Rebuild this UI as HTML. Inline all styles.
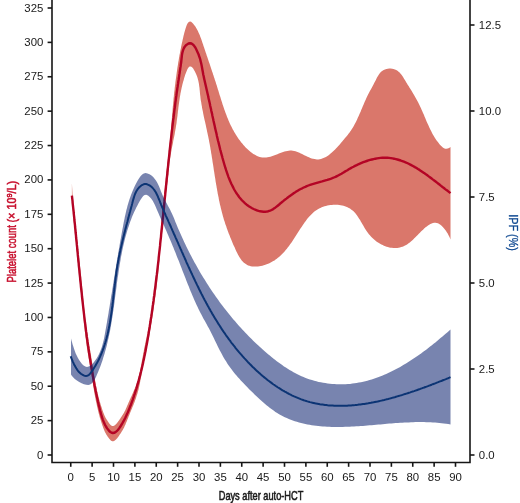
<!DOCTYPE html>
<html><head><meta charset="utf-8"><title>Platelet count and IPF</title>
<style>html,body{margin:0;padding:0;background:#fff}svg{display:block}text{font-family:"Liberation Sans",sans-serif;fill:#1a1a1a}</style></head><body>
<svg width="520" height="503" viewBox="0 0 520 503">
<rect width="520" height="503" fill="#fff"/>
<path d="M71.9 183.1L72.2 188.5L72.5 194.0L72.9 197.6L73.2 200.9L73.5 204.2L73.8 207.5L74.2 210.8L74.5 214.1L74.8 217.3L75.1 220.5L75.5 223.7L75.8 226.9L76.1 230.1L76.4 233.2L76.8 236.3L77.1 239.4L77.4 242.4L77.7 245.5L78.1 248.5L78.4 251.5L78.7 254.6L79.0 257.6L79.4 260.6L79.7 263.6L80.0 266.7L80.3 269.7L80.7 272.8L81.0 275.9L81.3 279.0L81.6 282.1L82.0 285.2L82.3 288.4L82.6 291.7L82.9 295.1L83.3 298.7L83.6 302.2L83.9 305.7L84.2 309.2L84.6 312.6L84.9 315.8L85.2 318.8L85.5 321.5L85.9 324.0L86.2 326.4L86.5 328.7L86.8 330.9L87.2 333.0L87.5 335.1L87.8 337.0L88.1 338.9L88.5 340.8L88.8 342.7L89.1 344.5L89.4 346.4L89.8 348.2L90.1 350.0L90.4 351.9L90.7 353.8L91.1 355.8L91.4 357.9L91.7 360.0L92.0 362.1L92.4 364.3L92.7 366.5L93.0 368.6L93.3 370.7L93.7 372.8L94.0 374.8L94.3 376.6L94.6 378.3L95.0 380.1L95.3 381.8L95.6 383.4L95.9 385.1L96.3 386.7L96.6 388.2L96.9 389.8L97.2 391.3L97.6 392.7L97.9 394.2L98.2 395.5L98.5 396.9L98.9 398.2L99.2 399.4L99.5 400.6L99.8 401.8L100.2 402.8L100.5 403.9L100.8 405.0L101.1 406.0L101.5 407.1L101.8 408.1L102.1 409.0L102.4 410.0L102.8 410.9L103.1 411.9L103.4 412.7L103.7 413.6L104.1 414.4L104.4 415.2L104.7 415.9L105.0 416.6L105.3 417.3L105.7 417.9L106.0 418.5L106.3 419.0L106.6 419.5L107.0 420.0L107.3 420.5L107.6 421.0L107.9 421.5L108.3 422.0L108.6 422.5L108.9 422.9L109.2 423.4L109.6 423.8L109.9 424.2L110.2 424.6L110.5 424.9L110.9 425.2L111.2 425.4L111.5 425.7L111.8 425.8L112.2 426.0L112.5 426.1L112.8 426.1L113.1 426.0L113.5 426.0L113.8 425.8L114.1 425.7L114.4 425.5L114.8 425.3L115.1 425.0L115.4 424.8L115.7 424.5L116.1 424.1L116.4 423.8L116.7 423.4L117.0 423.0L117.4 422.6L117.7 422.2L118.0 421.8L118.3 421.3L118.7 420.8L119.0 420.4L119.3 419.9L119.6 419.4L120.0 418.9L120.3 418.4L120.6 417.9L120.9 417.4L121.3 416.9L121.6 416.4L121.9 415.9L122.2 415.5L122.6 415.0L122.9 414.5L123.2 414.0L123.5 413.5L123.9 412.9L124.2 412.3L124.5 411.7L124.8 411.1L125.2 410.4L125.5 409.7L125.8 409.0L126.1 408.3L126.5 407.6L126.8 406.8L127.1 406.1L127.4 405.3L127.8 404.6L128.1 403.8L128.4 403.1L128.7 402.3L129.1 401.5L129.4 400.8L129.7 400.0L130.0 399.3L130.4 398.6L130.7 397.8L131.0 397.1L131.3 396.4L131.7 395.7L132.0 395.0L132.3 394.3L132.6 393.5L133.0 392.8L133.3 392.1L133.6 391.3L133.9 390.6L134.3 389.8L134.6 389.0L134.9 388.2L135.2 387.4L135.6 386.5L135.9 385.7L136.2 384.8L136.5 383.9L136.8 382.9L137.2 381.9L137.5 380.9L137.8 379.9L138.1 378.8L138.5 377.6L138.8 376.3L139.1 375.0L139.4 373.6L139.8 372.1L140.1 370.5L140.4 368.9L140.7 367.2L141.1 365.5L141.4 363.8L141.7 362.1L142.0 360.3L142.4 358.5L142.7 356.8L143.0 355.0L143.3 353.3L143.7 351.5L144.0 349.8L144.3 348.2L144.6 346.5L145.0 344.9L145.3 343.3L145.6 341.8L145.9 340.2L146.3 338.7L146.6 337.2L146.9 335.6L147.2 334.1L147.6 332.5L147.9 330.9L148.2 329.3L148.5 327.7L148.9 326.1L149.2 324.4L149.5 322.6L149.8 320.9L150.2 319.0L150.5 317.1L150.8 315.1L151.1 313.1L151.5 311.1L151.8 309.0L152.1 306.9L152.4 304.8L152.8 302.6L153.1 300.4L153.4 298.2L153.7 295.9L154.1 293.6L154.4 291.3L154.7 288.9L155.0 286.4L155.4 283.9L155.7 281.3L156.0 278.7L156.3 276.0L156.7 273.3L157.0 270.4L157.3 267.6L157.6 264.6L158.0 261.6L158.3 258.5L158.6 255.0L158.9 251.3L159.3 247.3L159.6 243.2L159.9 239.0L160.2 234.8L160.6 230.6L160.9 226.6L161.2 222.8L161.5 219.3L161.9 215.9L162.2 212.5L162.5 209.3L162.8 206.0L163.2 202.9L163.5 199.7L163.8 196.7L164.1 193.6L164.5 190.6L164.8 187.6L165.1 184.7L165.4 181.8L165.8 178.8L166.1 175.9L166.4 173.0L166.7 170.1L167.1 167.1L167.4 164.2L167.7 161.2L168.0 158.2L168.4 155.2L168.7 152.2L169.0 149.2L169.0 148.0L169.2 146.6L169.4 145.1L169.5 143.7L169.7 142.2L169.9 140.8L170.0 139.4L170.2 137.9L170.3 136.5L170.5 135.1L170.6 133.7L170.7 132.2L170.8 130.8L171.0 129.4L171.1 128.0L171.2 126.6L171.3 125.2L171.4 123.7L171.6 122.3L171.7 120.9L171.8 119.5L171.9 118.1L172.0 116.7L172.1 115.3L172.2 113.8L172.4 112.4L172.5 111.0L172.6 109.6L172.7 108.2L172.8 106.7L173.0 105.3L173.1 103.9L173.2 102.4L173.4 101.0L173.5 99.6L173.6 98.1L173.8 96.7L173.9 95.2L174.1 93.8L174.2 92.3L174.4 90.9L174.6 89.4L174.7 88.0L174.9 86.5L175.1 85.1L175.3 83.6L175.4 82.2L175.6 80.7L175.8 79.3L176.0 77.9L176.2 76.4L176.4 75.0L176.6 73.5L176.8 72.1L177.0 70.7L177.2 69.2L177.4 67.8L177.6 66.4L177.9 64.9L178.1 63.5L178.3 62.1L178.6 60.7L178.8 59.3L179.0 57.9L179.3 56.5L179.5 55.1L179.8 53.7L180.1 52.3L180.3 50.9L180.6 49.5L180.9 48.2L181.1 46.8L181.4 45.4L181.7 44.1L182.0 42.7L182.3 41.4L182.6 40.0L182.9 38.7L183.2 37.4L183.5 36.0L183.9 34.6L184.2 33.2L184.6 31.8L185.0 30.4L185.4 28.9L185.9 27.4L186.4 25.9L187.0 24.4L187.8 23.1L188.8 22.1L190.0 21.6L191.1 21.8L192.2 22.7L193.2 23.8L194.1 24.9L195.0 26.1L195.8 27.3L196.5 28.5L197.2 29.8L197.9 31.1L198.5 32.4L199.1 33.7L199.7 35.0L200.2 36.4L200.7 37.7L201.2 39.1L201.7 40.4L202.1 41.8L202.6 43.2L203.1 44.5L203.5 45.9L204.0 47.3L204.4 48.6L204.9 50.0L205.4 51.4L205.8 52.7L206.3 54.1L206.7 55.5L207.2 56.8L207.7 58.2L208.1 59.5L208.6 60.9L209.0 62.3L209.5 63.6L210.0 65.0L210.4 66.3L210.9 67.7L211.3 69.1L211.8 70.4L212.2 71.8L212.7 73.1L213.1 74.5L213.6 75.8L214.0 77.2L214.5 78.6L214.9 79.9L215.4 81.3L215.8 82.6L216.2 84.0L216.7 85.3L217.1 86.7L217.5 88.1L217.9 89.4L218.4 90.8L218.8 92.2L219.2 93.5L219.6 94.9L220.1 96.2L220.5 97.6L220.9 99.0L221.3 100.3L221.8 101.7L222.2 103.0L222.6 104.4L223.1 105.7L223.5 107.1L224.0 108.4L224.4 109.8L224.9 111.1L225.4 112.5L225.9 113.8L226.4 115.1L226.9 116.4L227.4 117.8L228.0 119.1L228.5 120.4L229.1 121.7L229.6 123.0L230.2 124.3L230.8 125.5L231.5 126.8L232.1 128.1L232.8 129.4L233.5 130.6L234.2 131.9L234.9 133.1L235.6 134.3L236.4 135.5L237.2 136.8L238.0 138.0L238.8 139.2L239.7 140.3L240.6 141.5L241.5 142.7L242.5 143.8L243.4 145.0L244.4 146.1L245.4 147.2L246.5 148.3L247.6 149.3L248.7 150.3L249.8 151.3L251.0 152.2L252.1 153.1L253.3 153.9L254.5 154.6L255.8 155.3L257.0 155.9L258.3 156.4L259.6 156.9L260.9 157.2L262.2 157.4L263.5 157.6L264.9 157.6L266.2 157.5L267.6 157.3L269.0 157.0L270.4 156.7L271.8 156.2L273.2 155.8L274.6 155.3L276.0 154.7L277.4 154.2L278.9 153.6L280.3 153.1L281.7 152.5L283.1 152.1L284.5 151.6L285.9 151.2L287.3 150.9L288.7 150.7L290.1 150.6L291.5 150.6L292.8 150.7L294.1 150.9L295.5 151.3L296.8 151.7L298.1 152.2L299.5 152.8L300.8 153.4L302.1 154.0L303.4 154.7L304.8 155.4L306.1 156.1L307.5 156.7L308.9 157.3L310.3 157.9L311.6 158.4L313.0 158.8L314.4 159.1L315.7 159.3L317.0 159.4L318.4 159.4L319.7 159.2L321.0 159.0L322.2 158.6L323.5 158.1L324.7 157.6L325.9 156.9L327.1 156.2L328.3 155.4L329.5 154.5L330.6 153.6L331.8 152.6L332.9 151.6L334.0 150.5L335.1 149.5L336.2 148.3L337.2 147.2L338.3 146.0L339.3 144.9L340.3 143.7L341.3 142.5L342.2 141.4L343.2 140.3L344.1 139.2L345.0 138.1L346.0 137.0L346.8 135.9L347.7 134.9L348.5 133.8L349.4 132.7L350.2 131.6L351.0 130.5L351.7 129.3L352.4 128.2L353.2 127.0L353.9 125.8L354.5 124.5L355.2 123.3L355.9 122.0L356.5 120.7L357.1 119.4L357.7 118.1L358.3 116.8L358.9 115.4L359.5 114.1L360.1 112.7L360.7 111.4L361.2 110.0L361.8 108.7L362.4 107.3L362.9 106.0L363.5 104.7L364.1 103.3L364.6 102.0L365.2 100.7L365.8 99.4L366.4 98.1L367.0 96.8L367.6 95.5L368.2 94.3L368.9 93.1L369.5 91.8L370.2 90.6L370.8 89.4L371.5 88.2L372.2 86.9L372.8 85.7L373.5 84.4L374.2 83.1L374.9 81.7L375.6 80.4L376.3 79.0L377.0 77.6L377.8 76.3L378.6 75.0L379.4 73.7L380.4 72.6L381.4 71.6L382.5 70.7L383.7 69.9L385.0 69.4L386.4 68.9L387.8 68.7L389.2 68.6L390.7 68.6L392.1 68.7L393.5 69.1L394.9 69.5L396.2 70.1L397.5 70.8L398.6 71.7L399.6 72.6L400.6 73.7L401.5 74.8L402.4 76.0L403.2 77.3L403.9 78.6L404.7 79.8L405.5 81.1L406.3 82.4L407.0 83.6L407.8 84.9L408.6 86.1L409.4 87.4L410.1 88.6L410.9 89.8L411.7 91.1L412.4 92.3L413.1 93.5L413.9 94.8L414.6 96.0L415.3 97.2L416.0 98.4L416.7 99.7L417.4 100.9L418.1 102.2L418.7 103.4L419.3 104.7L419.9 106.0L420.5 107.3L421.1 108.6L421.7 109.9L422.3 111.2L422.8 112.5L423.4 113.8L424.0 115.1L424.5 116.4L425.1 117.7L425.6 119.0L426.2 120.4L426.7 121.7L427.3 123.0L427.9 124.3L428.5 125.6L429.1 126.9L429.7 128.2L430.3 129.5L431.0 130.8L431.6 132.1L432.3 133.4L433.0 134.7L433.8 135.9L434.5 137.2L435.3 138.4L436.1 139.7L437.0 140.9L437.9 142.1L438.8 143.3L439.7 144.5L440.7 145.6L441.8 146.6L442.8 147.5L444.0 148.2L445.2 148.7L446.4 148.8L447.7 148.6L449.1 148.0L450.5 146.9L450.5 239.4L450.1 238.5L449.7 237.4L449.1 236.2L448.4 234.9L447.7 233.6L446.8 232.2L445.9 230.8L444.9 229.5L443.9 228.2L442.8 226.9L441.6 225.8L440.4 224.8L439.2 224.0L438.0 223.3L436.7 222.9L435.5 222.7L434.2 222.8L432.9 223.0L431.7 223.5L430.4 224.0L429.2 224.8L428.0 225.5L426.8 226.4L425.6 227.3L424.4 228.3L423.3 229.4L422.1 230.4L421.0 231.5L419.9 232.7L418.8 233.8L417.7 234.9L416.6 236.1L415.4 237.2L414.3 238.3L413.2 239.4L412.1 240.5L410.9 241.5L409.8 242.4L408.6 243.3L407.4 244.2L406.2 244.9L405.0 245.6L403.7 246.2L402.5 246.7L401.2 247.1L399.9 247.5L398.6 247.7L397.3 247.9L395.9 248.0L394.6 248.0L393.3 248.0L391.9 247.8L390.6 247.7L389.2 247.4L387.9 247.1L386.6 246.7L385.3 246.2L383.9 245.7L382.7 245.1L381.4 244.5L380.1 243.8L378.9 243.0L377.6 242.2L376.4 241.4L375.3 240.5L374.1 239.5L373.0 238.5L371.9 237.5L370.9 236.4L369.9 235.3L368.9 234.2L368.0 233.0L367.1 231.8L366.2 230.5L365.4 229.2L364.6 228.0L363.8 226.6L363.1 225.3L362.3 224.0L361.6 222.7L360.8 221.4L360.1 220.1L359.3 218.9L358.5 217.7L357.7 216.5L356.9 215.3L356.1 214.2L355.2 213.1L354.2 212.1L353.3 211.1L352.2 210.2L351.1 209.4L350.0 208.6L348.8 207.9L347.5 207.3L346.2 206.7L344.9 206.2L343.5 205.8L342.1 205.5L340.7 205.2L339.2 205.0L337.8 204.8L336.3 204.8L334.8 204.7L333.3 204.8L331.8 204.9L330.3 205.1L328.8 205.3L327.4 205.6L325.9 205.9L324.5 206.3L323.1 206.8L321.7 207.3L320.4 207.9L319.1 208.6L317.9 209.2L316.7 210.0L315.5 210.8L314.4 211.6L313.3 212.5L312.3 213.5L311.3 214.4L310.3 215.4L309.3 216.5L308.4 217.5L307.5 218.6L306.6 219.8L305.8 220.9L304.9 222.1L304.1 223.2L303.2 224.4L302.4 225.7L301.6 226.9L300.8 228.1L300.0 229.3L299.2 230.6L298.4 231.8L297.6 233.0L296.8 234.3L296.0 235.5L295.2 236.8L294.4 238.0L293.6 239.2L292.8 240.5L292.0 241.7L291.2 242.9L290.3 244.1L289.5 245.3L288.6 246.4L287.7 247.6L286.9 248.7L285.9 249.8L285.0 250.9L284.1 252.0L283.1 253.0L282.1 254.0L281.1 255.0L280.1 256.0L279.0 256.9L277.9 257.8L276.8 258.7L275.6 259.6L274.5 260.4L273.3 261.1L272.0 261.8L270.7 262.5L269.4 263.2L268.1 263.8L266.7 264.3L265.3 264.8L263.8 265.3L262.3 265.7L260.9 266.0L259.4 266.3L257.9 266.5L256.4 266.6L255.0 266.6L253.5 266.5L252.1 266.4L250.7 266.2L249.4 265.8L248.1 265.4L246.9 264.8L245.8 264.1L244.7 263.3L243.6 262.5L242.7 261.5L241.7 260.4L240.9 259.3L240.0 258.1L239.2 256.8L238.5 255.5L237.8 254.2L237.1 252.8L236.4 251.4L235.7 250.0L235.1 248.6L234.5 247.1L233.8 245.7L233.2 244.4L232.6 243.0L232.0 241.6L231.5 240.2L230.9 238.8L230.3 237.5L229.8 236.1L229.3 234.8L228.7 233.4L228.2 232.0L227.7 230.7L227.2 229.3L226.7 228.0L226.3 226.6L225.8 225.3L225.3 223.9L224.9 222.6L224.5 221.2L224.0 219.9L223.6 218.5L223.2 217.1L222.8 215.8L222.5 214.4L222.1 213.0L221.7 211.6L221.4 210.2L221.0 208.8L220.7 207.4L220.4 206.0L220.0 204.7L219.7 203.3L219.4 201.8L219.1 200.4L218.8 199.0L218.6 197.6L218.3 196.2L218.0 194.8L217.7 193.4L217.5 192.0L217.2 190.5L217.0 189.1L216.7 187.7L216.5 186.3L216.2 184.8L216.0 183.4L215.7 182.0L215.5 180.5L215.3 179.1L215.1 177.7L214.8 176.2L214.6 174.8L214.4 173.4L214.2 171.9L213.9 170.5L213.7 169.1L213.5 167.6L213.3 166.2L213.1 164.8L212.8 163.3L212.6 161.9L212.4 160.4L212.2 159.0L211.9 157.6L211.7 156.1L211.5 154.7L211.2 153.3L211.0 151.8L210.8 150.4L210.5 149.0L210.3 147.5L210.0 146.1L209.8 144.7L209.5 143.2L209.2 141.8L209.0 140.4L208.7 139.0L208.4 137.6L208.1 136.1L207.8 134.7L207.5 133.3L207.2 131.9L206.9 130.5L206.6 129.1L206.3 127.7L206.0 126.2L205.7 124.8L205.4 123.4L205.1 122.0L204.7 120.6L204.4 119.2L204.1 117.8L203.8 116.4L203.5 115.0L203.2 113.6L203.0 112.2L202.7 110.8L202.4 109.4L202.1 108.0L201.9 106.6L201.6 105.1L201.4 103.7L201.2 102.3L200.9 100.9L200.7 99.5L200.5 98.1L200.4 96.7L200.2 95.2L200.0 93.8L199.9 92.4L199.8 91.0L199.6 89.5L199.5 88.1L199.3 86.7L199.1 85.2L198.9 83.7L198.6 82.2L198.3 80.7L197.9 79.2L197.5 77.7L196.9 76.1L196.3 74.5L195.6 72.9L194.9 71.4L194.0 69.9L193.2 68.6L192.3 67.6L191.4 66.8L190.5 66.5L189.7 66.5L188.9 67.0L188.2 67.9L187.5 69.0L186.9 70.4L186.3 71.9L185.7 73.5L185.1 75.1L184.6 76.7L184.1 78.3L183.7 79.9L183.2 81.4L182.8 83.0L182.4 84.5L182.1 86.0L181.7 87.5L181.4 89.0L181.1 90.4L180.8 91.9L180.5 93.3L180.3 94.8L180.0 96.2L179.8 97.6L179.6 99.0L179.4 100.4L179.2 101.8L179.0 103.2L178.8 104.6L178.6 106.0L178.4 107.4L178.3 108.8L178.1 110.2L177.9 111.5L177.8 112.9L177.6 114.3L177.5 115.7L177.3 117.1L177.1 118.4L176.9 119.8L176.7 121.2L176.6 122.6L176.4 124.0L176.1 125.4L175.9 126.8L175.7 128.3L175.4 129.7L175.2 131.1L174.9 132.6L174.7 134.0L174.4 135.4L174.1 136.9L173.8 138.3L173.5 139.8L173.2 141.3L173.0 142.7L172.7 144.2L172.4 145.6L172.1 147.1L171.8 148.5L171.6 150.0L171.3 151.4L171.0 152.9L170.8 154.3L170.5 155.7L170.3 157.2L170.1 158.6L169.9 160.0L169.7 161.4L169.5 162.8L169.3 164.2L169.1 165.6L169.0 167.0L169.0 168.2L168.7 171.0L168.4 173.9L168.0 176.7L167.7 179.5L167.4 182.3L167.1 185.1L166.7 187.8L166.4 190.5L166.1 193.3L165.8 196.0L165.4 198.8L165.1 201.5L164.8 204.3L164.5 207.1L164.1 209.9L163.8 212.8L163.5 215.7L163.2 218.6L162.8 221.6L162.5 224.6L162.2 227.7L161.9 230.9L161.5 234.1L161.2 237.5L160.9 241.1L160.6 244.9L160.2 248.9L159.9 253.0L159.6 257.1L159.3 261.1L158.9 264.9L158.6 268.6L158.3 272.0L158.0 275.0L157.6 277.9L157.3 280.8L157.0 283.5L156.7 286.3L156.3 288.9L156.0 291.5L155.7 294.0L155.4 296.5L155.0 298.9L154.7 301.3L154.4 303.6L154.1 305.8L153.7 308.1L153.4 310.2L153.1 312.4L152.8 314.5L152.4 316.5L152.1 318.6L151.8 320.5L151.5 322.5L151.1 324.4L150.8 326.3L150.5 328.2L150.2 330.1L149.8 331.9L149.5 333.6L149.2 335.4L148.9 337.1L148.5 338.7L148.2 340.3L147.9 341.9L147.6 343.5L147.2 345.1L146.9 346.6L146.6 348.2L146.3 349.7L145.9 351.2L145.6 352.8L145.3 354.3L145.0 355.9L144.6 357.5L144.3 359.2L144.0 360.8L143.7 362.5L143.3 364.3L143.0 366.1L142.7 368.0L142.4 369.8L142.0 371.6L141.7 373.5L141.4 375.3L141.1 377.1L140.7 378.8L140.4 380.6L140.1 382.2L139.8 383.9L139.4 385.4L139.1 386.9L138.8 388.3L138.5 389.7L138.1 390.9L137.8 392.0L137.5 393.2L137.2 394.2L136.8 395.3L136.5 396.3L136.2 397.3L135.9 398.3L135.6 399.2L135.2 400.1L134.9 401.0L134.6 401.9L134.3 402.7L133.9 403.6L133.6 404.4L133.3 405.2L133.0 406.0L132.6 406.8L132.3 407.6L132.0 408.4L131.7 409.1L131.3 409.9L131.0 410.7L130.7 411.5L130.4 412.3L130.0 413.1L129.7 413.9L129.4 414.7L129.1 415.5L128.7 416.3L128.4 417.2L128.1 418.0L127.8 418.8L127.4 419.6L127.1 420.5L126.8 421.3L126.5 422.1L126.1 422.8L125.8 423.6L125.5 424.4L125.2 425.1L124.8 425.8L124.5 426.5L124.2 427.2L123.9 427.9L123.5 428.5L123.2 429.1L122.9 429.7L122.6 430.2L122.2 430.7L121.9 431.3L121.6 431.8L121.3 432.3L120.9 432.9L120.6 433.4L120.3 433.8L120.0 434.3L119.6 434.8L119.3 435.3L119.0 435.8L118.7 436.3L118.3 436.7L118.0 437.2L117.7 437.6L117.4 438.0L117.0 438.4L116.7 438.8L116.4 439.1L116.1 439.5L115.7 439.8L115.4 440.1L115.1 440.3L114.8 440.6L114.4 440.8L114.1 440.9L113.8 441.1L113.5 441.2L113.1 441.3L112.8 441.3L112.5 441.3L112.2 441.2L111.8 441.1L111.5 440.9L111.2 440.7L110.9 440.5L110.5 440.2L110.2 439.8L109.9 439.5L109.6 439.1L109.2 438.7L108.9 438.3L108.6 437.8L108.3 437.4L107.9 436.9L107.6 436.4L107.3 435.9L107.0 435.4L106.6 434.9L106.3 434.4L106.0 433.9L105.7 433.3L105.3 432.7L105.0 432.1L104.7 431.4L104.4 430.7L104.1 429.9L103.7 429.1L103.4 428.3L103.1 427.4L102.8 426.5L102.4 425.6L102.1 424.6L101.8 423.7L101.5 422.7L101.1 421.6L100.8 420.6L100.5 419.6L100.2 418.5L99.8 417.4L99.5 416.3L99.2 415.1L98.9 413.9L98.5 412.6L98.2 411.3L97.9 409.9L97.6 408.5L97.2 407.1L96.9 405.6L96.6 404.0L96.3 402.5L95.9 400.9L95.6 399.3L95.3 397.6L95.0 395.9L94.6 394.2L94.3 392.5L94.0 390.7L93.7 388.7L93.3 386.7L93.0 384.6L92.7 382.4L92.4 380.3L92.0 378.1L91.7 376.0L91.4 373.9L91.1 371.8L90.7 369.8L90.4 367.9L90.1 366.0L89.8 364.2L89.4 362.4L89.1 360.5L88.8 358.7L88.5 356.8L88.1 354.9L87.8 353.0L87.5 351.1L87.2 349.0L86.8 346.9L86.5 344.7L86.2 342.4L85.9 340.0L85.5 337.5L85.2 334.8L84.9 331.8L84.6 328.6L84.2 325.2L83.9 321.7L83.6 318.2L83.3 314.7L82.9 311.1L82.6 307.7L82.3 304.4L82.0 301.2L81.6 298.1L81.3 295.0L81.0 291.9L80.7 288.8L80.3 285.7L80.0 282.7L79.7 279.6L79.4 276.4L79.0 273.3L78.7 270.2L78.4 267.1L78.1 264.0L77.7 260.9L77.4 257.7L77.1 254.6L76.8 251.4L76.4 248.2L76.1 245.0L75.8 241.8L75.5 238.5L75.1 235.2L74.8 231.9L74.5 228.6L74.2 225.2L73.8 221.9L73.5 218.5L73.2 215.1L72.9 211.7L72.5 207.9L72.2 201.7L71.9 195.6Z" fill="#da776b"/>
<path d="M71.9 195.6L72.1 197.3L72.3 199.1L72.5 200.8L72.6 202.6L72.8 204.3L73.0 206.1L73.2 207.8L73.4 209.6L73.6 211.3L73.7 213.0L73.9 214.8L74.1 216.5L74.3 218.3L74.4 220.0L74.6 221.8L74.8 223.5L75.0 225.3L75.1 227.0L75.3 228.7L75.5 230.5L75.6 232.2L75.8 234.0L76.0 235.7L76.1 237.5L76.3 239.2L76.5 240.9L76.7 242.7L76.8 244.4L77.0 246.2L77.2 247.9L77.3 249.7L77.5 251.4L77.7 253.1L77.8 254.9L78.0 256.6L78.2 258.4L78.3 260.1L78.5 261.9L78.7 263.6L78.8 265.3L79.0 267.1L79.2 268.8L79.4 270.6L79.5 272.3L79.7 274.1L79.9 275.8L80.1 277.5L80.2 279.3L80.4 281.0L80.6 282.8L80.8 284.5L80.9 286.2L81.1 288.0L81.3 289.7L81.5 291.5L81.7 293.2L81.9 295.0L82.0 296.7L82.2 298.4L82.4 300.2L82.6 301.9L82.8 303.7L83.0 305.4L83.2 307.1L83.4 308.9L83.6 310.6L83.8 312.4L84.0 314.1L84.2 315.8L84.4 317.6L84.6 319.3L84.8 321.1L85.0 322.8L85.3 324.5L85.5 326.3L85.7 328.0L85.9 329.8L86.1 331.5L86.4 333.2L86.6 335.0L86.8 336.7L87.1 338.4L87.3 340.2L87.5 341.9L87.8 343.7L88.0 345.4L88.3 347.1L88.5 348.9L88.8 350.6L89.0 352.4L89.3 354.1L89.6 355.8L89.8 357.6L90.1 359.3L90.4 361.0L90.7 362.8L90.9 364.5L91.2 366.3L91.5 368.0L91.8 369.7L92.1 371.5L92.4 373.2L92.7 374.9L93.0 376.6L93.3 378.4L93.6 380.1L93.9 381.8L94.2 383.5L94.5 385.2L94.9 386.8L95.2 388.5L95.5 390.2L95.9 391.9L96.2 393.5L96.6 395.2L96.9 396.9L97.3 398.5L97.7 400.2L98.0 401.9L98.4 403.6L98.8 405.4L99.3 407.1L99.7 408.9L100.1 410.6L100.6 412.4L101.1 414.2L101.6 416.0L102.2 417.8L102.8 419.6L103.5 421.4L104.2 423.1L105.0 424.8L106.0 426.5L107.0 428.1L108.1 429.6L109.2 431.0L110.4 432.0L111.7 432.8L112.9 433.0L114.2 432.8L115.5 432.2L116.7 431.2L117.9 430.0L119.1 428.4L120.2 426.8L121.3 425.0L122.4 423.2L123.4 421.4L124.3 419.7L125.2 418.0L126.0 416.3L126.7 414.7L127.5 413.0L128.2 411.4L128.9 409.8L129.5 408.2L130.1 406.6L130.8 405.0L131.4 403.4L132.0 401.7L132.6 400.1L133.1 398.5L133.7 396.9L134.2 395.2L134.8 393.6L135.3 391.9L135.8 390.3L136.4 388.6L136.9 386.9L137.3 385.3L137.8 383.6L138.3 381.9L138.8 380.3L139.2 378.6L139.7 376.9L140.1 375.2L140.5 373.5L141.0 371.8L141.4 370.1L141.8 368.4L142.2 366.7L142.6 365.0L143.0 363.3L143.3 361.6L143.7 359.9L144.1 358.1L144.4 356.4L144.8 354.7L145.1 353.0L145.5 351.3L145.8 349.5L146.1 347.8L146.4 346.1L146.8 344.3L147.1 342.6L147.4 340.9L147.7 339.1L148.0 337.4L148.3 335.7L148.6 333.9L148.8 332.2L149.1 330.4L149.4 328.7L149.7 327.0L149.9 325.2L150.2 323.5L150.5 321.8L150.7 320.0L151.0 318.3L151.3 316.5L151.5 314.8L151.8 313.1L152.0 311.3L152.3 309.6L152.5 307.9L152.7 306.1L153.0 304.4L153.2 302.6L153.5 300.9L153.7 299.2L153.9 297.4L154.2 295.7L154.4 294.0L154.6 292.2L154.8 290.5L155.1 288.8L155.3 287.0L155.5 285.3L155.7 283.5L155.9 281.8L156.1 280.1L156.3 278.3L156.5 276.6L156.8 274.9L157.0 273.1L157.2 271.4L157.4 269.7L157.6 267.9L157.8 266.2L158.0 264.5L158.2 262.7L158.4 261.0L158.6 259.3L158.7 257.5L158.9 255.8L159.1 254.0L159.3 252.3L159.5 250.6L159.7 248.8L159.9 247.1L160.1 245.4L160.2 243.6L160.4 241.9L160.6 240.2L160.8 238.4L161.0 236.7L161.1 234.9L161.3 233.2L161.5 231.5L161.7 229.7L161.9 228.0L162.0 226.3L162.2 224.5L162.4 222.8L162.6 221.0L162.7 219.3L162.9 217.6L163.1 215.8L163.3 214.1L163.4 212.3L163.6 210.6L163.8 208.9L164.0 207.1L164.1 205.4L164.3 203.6L164.5 201.9L164.6 200.2L164.8 198.4L165.0 196.7L165.2 194.9L165.3 193.2L165.5 191.4L165.7 189.7L165.9 188.0L166.0 186.2L166.2 184.5L166.4 182.7L166.6 181.0L166.7 179.2L166.9 177.5L167.1 175.7L167.3 174.0L167.4 172.2L167.6 170.5L167.8 168.7L168.0 167.0L168.2 165.2L168.3 163.5L168.5 161.7L168.7 160.0L168.9 158.2L169.1 156.5L169.3 154.7L169.5 153.0L169.6 151.2L169.8 149.5L170.0 147.7L170.2 146.0L170.4 144.2L170.6 142.5L170.8 140.7L171.0 138.9L171.2 137.2L171.4 135.4L171.6 133.7L171.8 131.9L172.0 130.2L172.2 128.4L172.4 126.7L172.6 125.0L172.8 123.2L173.0 121.5L173.2 119.7L173.5 118.0L173.7 116.2L173.9 114.5L174.1 112.8L174.3 111.0L174.5 109.3L174.8 107.5L175.0 105.8L175.2 104.1L175.4 102.3L175.7 100.6L175.9 98.9L176.1 97.2L176.4 95.4L176.6 93.7L176.8 92.0L177.1 90.3L177.3 88.6L177.6 86.9L177.8 85.1L178.1 83.4L178.3 81.7L178.6 80.0L178.8 78.3L179.1 76.6L179.3 74.9L179.6 73.2L179.8 71.5L180.1 69.8L180.3 68.1L180.6 66.4L180.8 64.6L181.1 62.8L181.3 61.0L181.5 59.2L181.7 57.3L181.9 55.4L182.2 53.6L182.6 51.8L183.1 50.1L183.8 48.4L184.6 46.9L185.7 45.5L187.1 44.4L188.5 43.5L190.0 43.2L191.5 43.5L192.8 44.4L194.0 45.6L195.1 47.2L196.1 49.0L197.0 50.9L197.8 52.7L198.6 54.5L199.2 56.3L199.8 58.0L200.3 59.7L200.7 61.4L201.1 63.1L201.5 64.7L201.8 66.4L202.1 68.0L202.4 69.7L202.7 71.3L203.0 73.0L203.3 74.7L203.7 76.3L204.0 78.1L204.4 79.8L204.8 81.5L205.2 83.2L205.6 85.0L206.0 86.7L206.4 88.5L206.8 90.2L207.2 92.0L207.6 93.7L208.0 95.4L208.3 97.1L208.7 98.9L209.1 100.6L209.5 102.3L209.9 104.0L210.2 105.7L210.6 107.4L211.0 109.1L211.3 110.8L211.7 112.4L212.1 114.1L212.4 115.8L212.8 117.5L213.2 119.2L213.5 120.8L213.9 122.5L214.3 124.2L214.7 125.9L215.0 127.6L215.4 129.2L215.8 130.9L216.2 132.6L216.6 134.3L216.9 135.9L217.3 137.6L217.7 139.3L218.1 141.0L218.6 142.7L219.0 144.4L219.4 146.1L219.8 147.8L220.2 149.5L220.7 151.2L221.1 152.9L221.6 154.6L222.1 156.3L222.5 158.0L223.0 159.8L223.5 161.5L224.0 163.3L224.5 165.0L225.0 166.7L225.6 168.5L226.1 170.2L226.7 171.9L227.3 173.7L227.9 175.4L228.5 177.1L229.2 178.8L229.9 180.4L230.6 182.1L231.3 183.7L232.1 185.3L232.9 186.9L233.7 188.5L234.5 190.0L235.4 191.5L236.3 193.0L237.3 194.4L238.3 195.8L239.3 197.2L240.4 198.5L241.5 199.8L242.7 201.0L243.9 202.2L245.1 203.3L246.4 204.4L247.8 205.4L249.2 206.4L250.6 207.3L252.1 208.2L253.6 209.0L255.2 209.7L256.8 210.3L258.5 210.9L260.1 211.3L261.8 211.5L263.5 211.7L265.1 211.7L266.8 211.5L268.4 211.2L270.1 210.7L271.6 210.0L273.2 209.1L274.7 208.1L276.2 206.9L277.7 205.7L279.2 204.5L280.6 203.2L282.1 202.0L283.5 200.9L284.9 199.7L286.4 198.6L287.8 197.5L289.2 196.4L290.6 195.4L292.0 194.4L293.4 193.4L294.9 192.5L296.3 191.6L297.7 190.7L299.2 189.8L300.7 189.0L302.2 188.3L303.7 187.5L305.3 186.8L306.8 186.1L308.4 185.5L310.1 184.9L311.7 184.3L313.4 183.8L315.1 183.3L316.8 182.8L318.6 182.3L320.3 181.8L322.1 181.4L323.8 180.9L325.5 180.4L327.3 179.9L329.0 179.3L330.6 178.8L332.3 178.2L333.9 177.5L335.5 176.9L337.0 176.1L338.6 175.3L340.0 174.5L341.5 173.7L343.0 172.8L344.4 171.9L345.9 171.0L347.4 170.2L348.8 169.3L350.4 168.4L351.9 167.5L353.5 166.7L355.0 165.9L356.7 165.1L358.3 164.3L359.9 163.6L361.6 162.9L363.3 162.2L365.0 161.6L366.7 161.0L368.4 160.4L370.1 159.9L371.9 159.5L373.6 159.1L375.3 158.7L377.1 158.4L378.8 158.1L380.5 157.9L382.3 157.8L384.0 157.7L385.7 157.7L387.4 157.8L389.1 157.9L390.8 158.1L392.5 158.4L394.1 158.7L395.8 159.1L397.4 159.5L399.1 160.0L400.7 160.5L402.3 161.1L403.9 161.7L405.5 162.3L407.1 163.0L408.7 163.8L410.3 164.6L411.8 165.4L413.4 166.2L414.9 167.1L416.5 168.0L418.0 169.0L419.5 169.9L421.0 170.9L422.5 171.9L424.0 172.9L425.5 174.0L427.0 175.0L428.4 176.1L429.9 177.2L431.3 178.3L432.7 179.4L434.2 180.5L435.6 181.5L437.0 182.6L438.4 183.7L439.8 184.8L441.1 185.9L442.5 187.0L443.9 188.0L445.2 189.1L446.5 190.1L447.9 191.1L449.2 192.1L450.5 193.1" fill="none" stroke="#b40425" stroke-width="2.4" stroke-linejoin="round"/>
<path d="M71.0 338.5L71.5 340.5L72.1 342.6L72.7 344.7L73.4 346.8L74.1 349.0L74.9 351.2L75.7 353.4L76.7 355.6L77.8 357.8L79.1 359.9L80.5 362.0L82.0 363.9L83.6 365.4L85.3 366.5L87.0 366.9L88.7 366.6L90.4 365.7L92.1 364.2L93.6 362.5L95.1 360.6L96.4 358.7L97.6 356.7L98.7 354.7L99.6 352.7L100.5 350.6L101.3 348.5L102.0 346.4L102.6 344.2L103.2 342.0L103.7 339.9L104.2 337.7L104.6 335.4L105.0 333.2L105.4 331.0L105.8 328.8L106.2 326.6L106.6 324.3L107.0 322.1L107.3 319.9L107.7 317.7L108.1 315.5L108.5 313.3L108.8 311.0L109.2 308.8L109.6 306.6L109.9 304.4L110.3 302.2L110.6 300.0L111.0 297.8L111.3 295.6L111.7 293.4L112.1 291.1L112.4 288.9L112.8 286.7L113.1 284.5L113.5 282.3L113.8 280.1L114.2 277.9L114.5 275.7L114.9 273.5L115.2 271.3L115.6 269.1L116.0 266.9L116.3 264.7L116.7 262.5L117.0 260.3L117.4 258.1L117.8 255.9L118.1 253.7L118.5 251.5L118.9 249.3L119.3 247.2L119.6 245.0L120.0 242.8L120.4 240.6L120.8 238.4L121.2 236.2L121.6 234.0L122.0 231.8L122.4 229.6L122.8 227.5L123.2 225.3L123.6 223.1L124.0 220.9L124.5 218.7L124.9 216.6L125.4 214.4L125.9 212.2L126.4 210.0L127.0 207.9L127.5 205.7L128.2 203.5L128.8 201.4L129.5 199.2L130.3 197.0L131.0 194.9L131.9 192.7L132.8 190.6L133.7 188.5L134.7 186.3L135.7 184.2L136.9 182.1L138.0 179.9L139.3 177.9L140.7 176.0L142.2 174.5L143.8 173.5L145.6 173.1L147.5 173.4L149.5 174.3L151.5 175.5L153.2 177.1L154.8 178.9L156.1 180.8L157.3 182.8L158.4 184.9L159.3 187.1L160.2 189.3L161.0 191.5L161.9 193.6L162.8 195.7L163.8 197.8L164.8 199.8L165.8 201.8L166.9 203.7L167.9 205.7L168.9 207.6L170.0 209.5L170.9 211.5L171.9 213.5L172.8 215.5L173.7 217.6L174.5 219.6L175.3 221.7L176.2 223.7L177.0 225.8L177.9 227.9L178.8 229.9L179.7 232.0L180.6 234.0L181.5 236.1L182.4 238.1L183.3 240.1L184.3 242.2L185.3 244.2L186.2 246.2L187.2 248.2L188.2 250.2L189.2 252.2L190.2 254.2L191.3 256.2L192.3 258.2L193.4 260.2L194.4 262.2L195.5 264.1L196.6 266.1L197.7 268.0L198.8 270.0L199.9 271.9L201.1 273.9L202.2 275.8L203.4 277.7L204.6 279.6L205.8 281.5L207.0 283.4L208.2 285.3L209.4 287.2L210.6 289.0L211.9 290.9L213.1 292.7L214.4 294.6L215.7 296.4L217.0 298.2L218.3 300.1L219.6 301.9L220.9 303.7L222.3 305.5L223.6 307.2L225.0 309.0L226.4 310.8L227.8 312.5L229.2 314.3L230.6 316.0L232.0 317.7L233.4 319.4L234.9 321.1L236.3 322.8L237.8 324.5L239.3 326.2L240.8 327.8L242.3 329.5L243.8 331.1L245.4 332.7L246.9 334.3L248.5 335.9L250.0 337.5L251.6 339.1L253.2 340.7L254.8 342.2L256.4 343.7L258.1 345.3L259.7 346.8L261.4 348.3L263.0 349.8L264.7 351.2L266.4 352.7L268.1 354.2L269.8 355.6L271.5 357.0L273.3 358.4L275.0 359.8L276.8 361.2L278.6 362.5L280.4 363.8L282.2 365.1L284.0 366.4L285.9 367.6L287.7 368.8L289.6 370.0L291.6 371.1L293.5 372.2L295.5 373.3L297.4 374.3L299.4 375.3L301.5 376.2L303.5 377.1L305.6 377.9L307.7 378.7L309.9 379.4L312.0 380.1L314.2 380.8L316.4 381.3L318.6 381.9L320.9 382.3L323.1 382.8L325.3 383.1L327.6 383.5L329.9 383.7L332.1 384.0L334.4 384.1L336.6 384.2L338.9 384.3L341.2 384.3L343.4 384.3L345.6 384.2L347.9 384.1L350.1 383.9L352.3 383.6L354.5 383.3L356.7 383.0L358.8 382.6L361.0 382.2L363.2 381.7L365.3 381.2L367.4 380.7L369.6 380.1L371.7 379.4L373.8 378.8L375.9 378.1L378.0 377.3L380.0 376.5L382.1 375.7L384.2 374.8L386.2 374.0L388.2 373.0L390.3 372.1L392.3 371.1L394.3 370.1L396.2 369.1L398.2 368.0L400.2 366.9L402.1 365.8L404.1 364.6L406.0 363.5L407.9 362.3L409.8 361.1L411.7 359.8L413.6 358.6L415.5 357.3L417.4 356.0L419.2 354.7L421.1 353.4L422.9 352.1L424.7 350.7L426.5 349.4L428.3 348.0L430.1 346.6L431.9 345.2L433.6 343.8L435.4 342.4L437.1 341.0L438.8 339.6L440.5 338.1L442.2 336.7L443.9 335.3L445.6 333.8L447.2 332.4L448.9 330.9L450.5 329.5L450.5 424.4L448.3 424.0L446.1 423.7L443.8 423.4L441.6 423.2L439.4 423.0L437.2 422.8L435.0 422.6L432.8 422.4L430.6 422.3L428.4 422.2L426.3 422.2L424.1 422.1L421.9 422.1L419.7 422.1L417.5 422.1L415.3 422.1L413.2 422.2L411.0 422.3L408.8 422.4L406.6 422.5L404.5 422.6L402.3 422.7L400.1 422.8L397.9 423.0L395.8 423.1L393.6 423.3L391.4 423.5L389.2 423.6L387.0 423.8L384.9 424.0L382.7 424.2L380.5 424.4L378.3 424.6L376.1 424.8L373.9 425.0L371.7 425.2L369.5 425.3L367.3 425.5L365.1 425.7L362.9 425.9L360.7 426.0L358.5 426.2L356.2 426.3L354.0 426.4L351.8 426.6L349.5 426.7L347.3 426.8L345.1 426.8L342.8 426.9L340.6 426.9L338.3 427.0L336.1 427.0L333.8 426.9L331.6 426.9L329.4 426.8L327.1 426.7L324.9 426.6L322.7 426.4L320.5 426.2L318.3 426.0L316.1 425.8L313.9 425.5L311.7 425.2L309.6 424.8L307.4 424.4L305.3 424.0L303.2 423.5L301.1 423.0L299.0 422.4L296.9 421.8L294.8 421.2L292.8 420.5L290.8 419.7L288.8 418.9L286.8 418.1L284.8 417.2L282.9 416.2L281.0 415.2L279.1 414.2L277.2 413.0L275.4 411.9L273.6 410.6L271.8 409.3L270.0 408.0L268.2 406.6L266.5 405.2L264.8 403.8L263.1 402.3L261.4 400.8L259.7 399.3L258.1 397.8L256.5 396.2L254.8 394.7L253.2 393.1L251.6 391.5L250.0 390.0L248.5 388.4L246.9 386.8L245.4 385.2L243.8 383.6L242.3 382.0L240.8 380.4L239.4 378.8L237.9 377.2L236.5 375.5L235.1 373.9L233.7 372.2L232.4 370.5L231.1 368.8L229.8 367.0L228.5 365.3L227.3 363.5L226.2 361.6L225.0 359.8L223.9 357.9L222.8 356.0L221.8 354.1L220.7 352.1L219.7 350.2L218.7 348.2L217.7 346.2L216.8 344.3L215.8 342.3L214.8 340.3L213.9 338.3L212.9 336.3L211.9 334.3L210.9 332.3L209.9 330.3L208.9 328.3L207.8 326.4L206.8 324.5L205.7 322.5L204.6 320.6L203.5 318.7L202.5 316.8L201.5 314.8L200.5 312.9L199.5 310.9L198.5 308.9L197.6 306.9L196.6 305.0L195.7 303.0L194.8 301.0L193.9 299.0L193.1 297.0L192.2 294.9L191.4 292.9L190.5 290.9L189.7 288.9L188.9 286.8L188.0 284.8L187.2 282.7L186.4 280.7L185.6 278.6L184.8 276.6L184.0 274.5L183.2 272.4L182.4 270.4L181.6 268.3L180.8 266.2L180.0 264.2L179.2 262.1L178.4 260.0L177.5 257.9L176.7 255.9L175.9 253.8L175.1 251.7L174.2 249.7L173.4 247.6L172.5 245.6L171.7 243.5L170.9 241.5L170.0 239.4L169.1 237.4L168.3 235.4L167.4 233.4L166.6 231.4L165.7 229.4L164.8 227.4L164.0 225.5L163.1 223.5L162.2 221.6L161.3 219.7L160.4 217.8L159.5 215.8L158.7 213.8L157.8 211.7L156.8 209.6L155.9 207.3L154.9 205.1L153.9 202.9L152.7 200.7L151.3 198.8L149.7 197.0L148.0 195.6L146.2 194.8L144.6 195.0L143.2 196.0L141.9 197.7L140.7 199.5L139.5 201.5L138.4 203.4L137.4 205.4L136.3 207.4L135.4 209.4L134.4 211.4L133.5 213.5L132.6 215.5L131.8 217.6L131.0 219.7L130.2 221.7L129.5 223.8L128.8 225.9L128.1 228.0L127.4 230.2L126.8 232.3L126.2 234.4L125.6 236.5L125.0 238.7L124.5 240.8L124.0 242.9L123.5 245.1L123.0 247.2L122.5 249.4L122.1 251.5L121.7 253.7L121.2 255.9L120.8 258.0L120.5 260.2L120.1 262.4L119.7 264.5L119.4 266.7L119.0 268.9L118.7 271.0L118.4 273.2L118.1 275.4L117.7 277.6L117.4 279.8L117.1 281.9L116.8 284.1L116.6 286.3L116.3 288.5L116.0 290.7L115.7 292.9L115.4 295.0L115.1 297.2L114.8 299.4L114.6 301.6L114.3 303.8L114.0 306.0L113.7 308.1L113.4 310.3L113.0 312.5L112.7 314.7L112.4 316.9L112.0 319.0L111.7 321.2L111.3 323.4L111.0 325.5L110.6 327.7L110.2 329.9L109.8 332.0L109.3 334.2L108.9 336.3L108.4 338.5L107.9 340.6L107.4 342.8L106.9 344.9L106.4 347.0L105.8 349.2L105.2 351.3L104.6 353.4L104.0 355.5L103.3 357.6L102.7 359.7L102.0 361.8L101.2 363.9L100.5 366.0L99.7 368.1L98.8 370.2L98.0 372.3L97.1 374.3L96.2 376.4L95.2 378.4L94.2 380.3L93.0 382.0L91.7 383.4L90.1 384.4L88.3 384.9L86.2 384.8L84.0 384.3L81.6 383.3L79.2 382.0L76.9 380.5L74.8 378.9L73.1 377.3L71.8 375.7L71.0 374.4Z" fill="#0e2370" fill-opacity="0.56"/>
<path d="M70.6 356.3L71.0 357.1L71.4 358.1L71.8 359.2L72.3 360.3L72.8 361.6L73.4 362.9L74.0 364.2L74.7 365.6L75.5 366.9L76.3 368.3L77.1 369.6L78.0 370.8L79.0 372.0L80.1 373.0L81.2 374.0L82.4 374.7L83.6 375.4L84.8 375.8L86.0 375.9L87.1 375.8L88.1 375.4L89.1 374.7L89.9 373.9L90.7 372.9L91.5 371.8L92.3 370.7L93.0 369.6L93.7 368.5L94.4 367.3L95.1 366.2L95.8 365.1L96.4 363.9L97.1 362.8L97.7 361.6L98.3 360.5L98.9 359.3L99.4 358.1L100.0 356.9L100.5 355.7L101.0 354.5L101.5 353.3L102.0 352.1L102.5 350.9L102.9 349.7L103.4 348.5L103.8 347.2L104.2 346.0L104.6 344.8L105.0 343.5L105.4 342.3L105.8 341.0L106.1 339.7L106.5 338.5L106.8 337.2L107.1 335.9L107.5 334.7L107.8 333.4L108.1 332.1L108.3 330.8L108.6 329.5L108.9 328.2L109.1 326.9L109.4 325.6L109.6 324.3L109.9 323.0L110.1 321.7L110.3 320.4L110.5 319.1L110.7 317.8L110.9 316.5L111.1 315.1L111.3 313.8L111.5 312.5L111.7 311.2L111.9 309.9L112.0 308.5L112.2 307.2L112.4 305.9L112.5 304.5L112.7 303.2L112.9 301.9L113.0 300.5L113.2 299.2L113.3 297.9L113.5 296.5L113.6 295.2L113.8 293.9L113.9 292.5L114.1 291.2L114.2 289.9L114.4 288.5L114.5 287.2L114.7 285.9L114.8 284.6L115.0 283.2L115.1 281.9L115.3 280.6L115.5 279.3L115.6 277.9L115.8 276.6L116.0 275.3L116.2 274.0L116.3 272.7L116.5 271.3L116.7 270.0L116.9 268.7L117.1 267.4L117.3 266.1L117.5 264.8L117.8 263.5L118.0 262.2L118.2 261.0L118.5 259.7L118.7 258.4L118.9 257.1L119.2 255.8L119.5 254.5L119.7 253.3L120.0 252.0L120.3 250.7L120.5 249.4L120.8 248.2L121.1 246.9L121.4 245.6L121.7 244.4L122.0 243.1L122.3 241.8L122.6 240.5L122.9 239.3L123.2 238.0L123.5 236.7L123.8 235.5L124.1 234.2L124.5 232.9L124.8 231.7L125.1 230.4L125.4 229.1L125.8 227.9L126.1 226.6L126.4 225.3L126.8 224.0L127.1 222.8L127.5 221.5L127.8 220.2L128.1 218.9L128.5 217.6L128.8 216.3L129.2 215.1L129.5 213.8L129.8 212.5L130.2 211.2L130.5 209.9L130.9 208.6L131.2 207.3L131.6 206.0L131.9 204.7L132.3 203.3L132.6 202.0L132.9 200.7L133.3 199.4L133.7 198.1L134.1 196.8L134.5 195.5L135.0 194.2L135.5 193.0L136.1 191.8L136.8 190.6L137.5 189.4L138.3 188.4L139.2 187.3L140.2 186.4L141.3 185.5L142.4 184.8L143.6 184.3L144.8 184.1L146.0 184.1L147.2 184.3L148.4 184.8L149.5 185.4L150.7 186.2L151.7 187.1L152.7 188.0L153.5 189.0L154.4 190.1L155.1 191.2L155.8 192.3L156.4 193.5L157.0 194.7L157.6 195.9L158.1 197.2L158.6 198.5L159.2 199.7L159.7 201.0L160.2 202.3L160.7 203.5L161.2 204.8L161.7 206.0L162.2 207.3L162.8 208.5L163.3 209.7L163.8 211.0L164.3 212.2L164.9 213.4L165.4 214.6L165.9 215.8L166.5 217.1L167.0 218.3L167.6 219.5L168.1 220.7L168.6 221.9L169.2 223.1L169.7 224.3L170.3 225.5L170.8 226.7L171.3 227.9L171.9 229.1L172.4 230.4L173.0 231.6L173.5 232.8L174.0 234.0L174.6 235.2L175.1 236.4L175.6 237.6L176.2 238.8L176.7 240.0L177.2 241.2L177.8 242.4L178.3 243.6L178.8 244.9L179.4 246.1L179.9 247.3L180.4 248.5L181.0 249.7L181.5 250.9L182.0 252.1L182.6 253.3L183.1 254.5L183.6 255.7L184.2 256.9L184.7 258.1L185.2 259.3L185.8 260.5L186.3 261.8L186.8 263.0L187.4 264.2L187.9 265.4L188.5 266.6L189.0 267.8L189.6 269.0L190.1 270.2L190.7 271.4L191.2 272.5L191.8 273.7L192.3 274.9L192.9 276.1L193.4 277.3L194.0 278.5L194.6 279.7L195.1 280.9L195.7 282.1L196.3 283.3L196.8 284.4L197.4 285.6L198.0 286.8L198.6 288.0L199.1 289.2L199.7 290.3L200.3 291.5L200.9 292.7L201.5 293.9L202.1 295.0L202.7 296.2L203.3 297.4L203.9 298.5L204.5 299.7L205.1 300.8L205.8 302.0L206.4 303.2L207.0 304.3L207.6 305.5L208.3 306.6L208.9 307.8L209.5 308.9L210.2 310.0L210.8 311.2L211.5 312.3L212.1 313.5L212.8 314.6L213.5 315.7L214.1 316.9L214.8 318.0L215.5 319.1L216.2 320.2L216.9 321.3L217.6 322.5L218.2 323.6L219.0 324.7L219.7 325.8L220.4 326.9L221.1 328.0L221.8 329.1L222.5 330.2L223.3 331.3L224.0 332.4L224.8 333.4L225.5 334.5L226.3 335.6L227.0 336.7L227.8 337.7L228.6 338.8L229.4 339.9L230.2 340.9L230.9 342.0L231.7 343.1L232.6 344.1L233.4 345.2L234.2 346.2L235.0 347.2L235.8 348.3L236.7 349.3L237.5 350.3L238.4 351.4L239.2 352.4L240.1 353.4L241.0 354.4L241.9 355.4L242.7 356.4L243.6 357.4L244.5 358.4L245.5 359.4L246.4 360.4L247.3 361.4L248.2 362.4L249.2 363.3L250.1 364.3L251.1 365.3L252.0 366.2L253.0 367.2L254.0 368.1L254.9 369.0L255.9 370.0L256.9 370.9L257.9 371.8L258.9 372.7L259.9 373.6L260.9 374.5L262.0 375.4L263.0 376.3L264.0 377.1L265.1 378.0L266.1 378.8L267.2 379.7L268.2 380.5L269.3 381.3L270.4 382.1L271.5 382.9L272.5 383.7L273.6 384.5L274.7 385.2L275.8 386.0L276.9 386.7L278.0 387.5L279.2 388.2L280.3 388.9L281.4 389.6L282.5 390.3L283.7 390.9L284.8 391.6L286.0 392.2L287.1 392.9L288.3 393.5L289.4 394.1L290.6 394.7L291.8 395.3L292.9 395.8L294.1 396.4L295.3 396.9L296.5 397.4L297.7 397.9L298.9 398.4L300.1 398.9L301.3 399.4L302.5 399.8L303.7 400.2L305.0 400.6L306.2 401.0L307.4 401.4L308.7 401.7L309.9 402.1L311.1 402.4L312.4 402.7L313.6 403.0L314.9 403.3L316.1 403.6L317.4 403.8L318.7 404.0L319.9 404.3L321.2 404.5L322.5 404.6L323.8 404.8L325.0 405.0L326.3 405.1L327.6 405.3L328.9 405.4L330.2 405.5L331.5 405.6L332.8 405.6L334.1 405.7L335.4 405.8L336.7 405.8L338.0 405.8L339.3 405.8L340.6 405.8L341.9 405.8L343.2 405.8L344.5 405.8L345.8 405.7L347.1 405.7L348.5 405.6L349.8 405.5L351.1 405.4L352.4 405.3L353.7 405.2L355.1 405.1L356.4 404.9L357.7 404.8L359.0 404.6L360.3 404.5L361.7 404.3L363.0 404.1L364.3 403.9L365.6 403.7L367.0 403.5L368.3 403.3L369.6 403.0L371.0 402.8L372.3 402.5L373.6 402.3L374.9 402.0L376.3 401.7L377.6 401.5L378.9 401.2L380.2 400.9L381.5 400.6L382.9 400.3L384.2 400.0L385.5 399.6L386.8 399.3L388.1 399.0L389.5 398.6L390.8 398.3L392.1 397.9L393.4 397.5L394.7 397.2L396.0 396.8L397.3 396.4L398.6 396.0L399.9 395.6L401.2 395.3L402.5 394.9L403.8 394.4L405.1 394.0L406.4 393.6L407.7 393.2L409.0 392.8L410.3 392.4L411.5 391.9L412.8 391.5L414.1 391.1L415.4 390.6L416.6 390.2L417.9 389.7L419.2 389.3L420.4 388.8L421.7 388.4L422.9 387.9L424.2 387.5L425.4 387.0L426.6 386.6L427.9 386.1L429.1 385.6L430.3 385.2L431.6 384.7L432.8 384.2L434.0 383.8L435.2 383.3L436.4 382.8L437.6 382.4L438.8 381.9L440.0 381.4L441.2 381.0L442.4 380.5L443.5 380.0L444.7 379.6L445.9 379.1L447.0 378.6L448.2 378.2L449.4 377.7L450.5 377.2" fill="none" stroke="#0c3474" stroke-width="2.0" stroke-linejoin="round"/>
<g stroke="#161616" stroke-width="1.6" fill="none">
<path d="M52 0V462.5H470V0"/>
<path d="M47.6 455.00H52"/>
<path d="M47.6 420.62H52"/>
<path d="M47.6 386.23H52"/>
<path d="M47.6 351.85H52"/>
<path d="M47.6 317.46H52"/>
<path d="M47.6 283.08H52"/>
<path d="M47.6 248.69H52"/>
<path d="M47.6 214.31H52"/>
<path d="M47.6 179.92H52"/>
<path d="M47.6 145.54H52"/>
<path d="M47.6 111.15H52"/>
<path d="M47.6 76.76H52"/>
<path d="M47.6 42.38H52"/>
<path d="M47.6 8.00H52"/>
<path d="M470 455.00H474.5"/>
<path d="M470 369.00H474.5"/>
<path d="M470 283.00H474.5"/>
<path d="M470 197.00H474.5"/>
<path d="M470 111.00H474.5"/>
<path d="M470 25.00H474.5"/>
<path d="M70.75 462.5V466.8"/>
<path d="M92.12 462.5V466.8"/>
<path d="M113.50 462.5V466.8"/>
<path d="M134.88 462.5V466.8"/>
<path d="M156.25 462.5V466.8"/>
<path d="M177.62 462.5V466.8"/>
<path d="M199.00 462.5V466.8"/>
<path d="M220.38 462.5V466.8"/>
<path d="M241.75 462.5V466.8"/>
<path d="M263.12 462.5V466.8"/>
<path d="M284.50 462.5V466.8"/>
<path d="M305.88 462.5V466.8"/>
<path d="M327.25 462.5V466.8"/>
<path d="M348.62 462.5V466.8"/>
<path d="M370.00 462.5V466.8"/>
<path d="M391.38 462.5V466.8"/>
<path d="M412.75 462.5V466.8"/>
<path d="M434.13 462.5V466.8"/>
<path d="M455.50 462.5V466.8"/>
</g>
<g font-size="10.2" text-anchor="end">
<text transform="translate(43.4 458.55) scale(1.12 1)">0</text>
<text transform="translate(43.4 424.17) scale(1.12 1)">25</text>
<text transform="translate(43.4 389.78) scale(1.12 1)">50</text>
<text transform="translate(43.4 355.40) scale(1.12 1)">75</text>
<text transform="translate(43.4 321.01) scale(1.12 1)">100</text>
<text transform="translate(43.4 286.63) scale(1.12 1)">125</text>
<text transform="translate(43.4 252.24) scale(1.12 1)">150</text>
<text transform="translate(43.4 217.86) scale(1.12 1)">175</text>
<text transform="translate(43.4 183.47) scale(1.12 1)">200</text>
<text transform="translate(43.4 149.09) scale(1.12 1)">225</text>
<text transform="translate(43.4 114.70) scale(1.12 1)">250</text>
<text transform="translate(43.4 80.31) scale(1.12 1)">275</text>
<text transform="translate(43.4 45.93) scale(1.12 1)">300</text>
<text transform="translate(43.4 11.55) scale(1.12 1)">325</text>
</g>
<g font-size="10.2" text-anchor="start">
<text transform="translate(478.8 458.55) scale(1.12 1)">0.0</text>
<text transform="translate(478.8 372.55) scale(1.12 1)">2.5</text>
<text transform="translate(478.8 286.55) scale(1.12 1)">5.0</text>
<text transform="translate(478.8 200.55) scale(1.12 1)">7.5</text>
<text transform="translate(478.8 114.55) scale(1.12 1)">10.0</text>
<text transform="translate(478.8 28.55) scale(1.12 1)">12.5</text>
</g>
<g font-size="10.2" text-anchor="middle">
<text transform="translate(70.75 481.05) scale(1.12 1)">0</text>
<text transform="translate(92.12 481.05) scale(1.12 1)">5</text>
<text transform="translate(113.50 481.05) scale(1.12 1)">10</text>
<text transform="translate(134.88 481.05) scale(1.12 1)">15</text>
<text transform="translate(156.25 481.05) scale(1.12 1)">20</text>
<text transform="translate(177.62 481.05) scale(1.12 1)">25</text>
<text transform="translate(199.00 481.05) scale(1.12 1)">30</text>
<text transform="translate(220.38 481.05) scale(1.12 1)">35</text>
<text transform="translate(241.75 481.05) scale(1.12 1)">40</text>
<text transform="translate(263.12 481.05) scale(1.12 1)">45</text>
<text transform="translate(284.50 481.05) scale(1.12 1)">50</text>
<text transform="translate(305.88 481.05) scale(1.12 1)">55</text>
<text transform="translate(327.25 481.05) scale(1.12 1)">60</text>
<text transform="translate(348.62 481.05) scale(1.12 1)">65</text>
<text transform="translate(370.00 481.05) scale(1.12 1)">70</text>
<text transform="translate(391.38 481.05) scale(1.12 1)">75</text>
<text transform="translate(412.75 481.05) scale(1.12 1)">80</text>
<text transform="translate(434.13 481.05) scale(1.12 1)">85</text>
<text transform="translate(455.50 481.05) scale(1.12 1)">90</text>
</g>
<text transform="translate(261 499.8) scale(0.77 1)" font-size="12" text-anchor="middle" stroke="#1a1a1a" stroke-width="0.55">Days after auto-HCT</text>
<g font-size="12" style="fill:#c8102e" stroke="#c8102e" stroke-width="0.55">
<text transform="translate(16 282.5) rotate(-90) scale(0.79 1)" text-anchor="start" style="fill:#c8102e">Platelet count</text>
<text transform="translate(16 181) rotate(-90) scale(0.9 1)" text-anchor="end" style="fill:#c8102e">(× 10<tspan font-size="8" dy="-4.3">9</tspan><tspan dy="4.3">/L)</tspan></text>
</g>
<text transform="translate(508.6 232.6) rotate(90) scale(0.9 1)" font-size="12" text-anchor="middle" style="fill:#114a92" stroke="#114a92" stroke-width="0.3">IPF (%)</text>
</svg></body></html>
